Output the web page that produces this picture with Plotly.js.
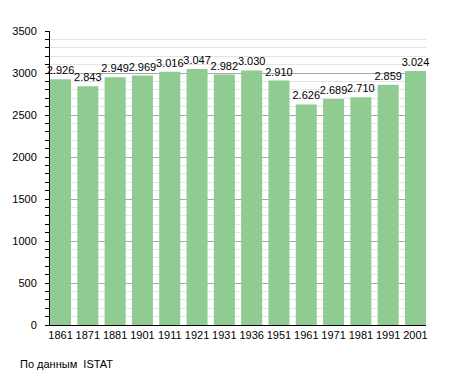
<!DOCTYPE html>
<html><head><meta charset="utf-8">
<script src="https://cdn.plot.ly/plotly-3.0.1.min.js"></script>
<style>body{margin:0;padding:0;background:#fff}#c{width:455px;height:373px}</style>
</head><body><div id="c"></div>
<script>
const years = ["1861","1871","1881","1901","1911","1921","1931","1936","1951","1961","1971","1981","1991","2001"];
const population = [2926,2843,2949,2969,3016,3047,2982,3030,2910,2626,2689,2710,2859,3024];
const labels = ["2.926","2.843","2.949","2.969","3.016","3.047","2.982","3.030","2.910","2.626","2.689","2.710","2.859","3.024"];
const source = "По данным  ISTAT";

const trace = {
  type: 'bar', x: years, y: population, text: labels,
  textposition: 'outside', cliponaxis: false, constraintext: 'none',
  textfont: {family: 'Liberation Sans, Arial', size: 11, color: '#000'},
  marker: {color: '#90cb92', line: {width: 0}},
  hoverinfo: 'none'
};
const layout = {
  width: 455, height: 373,
  margin: {l: 50, r: 29, t: 31, b: 48},
  paper_bgcolor: '#fff', plot_bgcolor: '#fff',
  bargap: 0.23, showlegend: false,
  font: {family: 'Liberation Sans, Arial', size: 11, color: '#000'},
  xaxis: {type: 'category', range: [-0.385, 13.385], showline: true, linecolor: '#000', linewidth: 1,
          ticks: '', showgrid: false, zeroline: false, tickfont: {size: 11}},
  yaxis: {range: [0, 3500], dtick: 500, showline: true, linecolor: '#000', linewidth: 1,
          ticks: 'outside', ticklen: 4, tickcolor: '#000', gridcolor: '#a8a8a8', gridwidth: 1,
          zeroline: false, tickfont: {size: 11}, ticklabelstandoff: 6,
          minor: {dtick: 100, ticks: 'outside', ticklen: 4, tickcolor: '#000', showgrid: true, gridcolor: '#e4e4e4', gridwidth: 1}},
  annotations: [{text: source, xref: 'paper', yref: 'paper', x: -0.085, y: -0.105, xanchor: 'left', yanchor: 'top',
                 showarrow: false, font: {size: 11}}]
};
Plotly.newPlot('c', [trace], layout, {staticPlot: true});
</script></body></html>
